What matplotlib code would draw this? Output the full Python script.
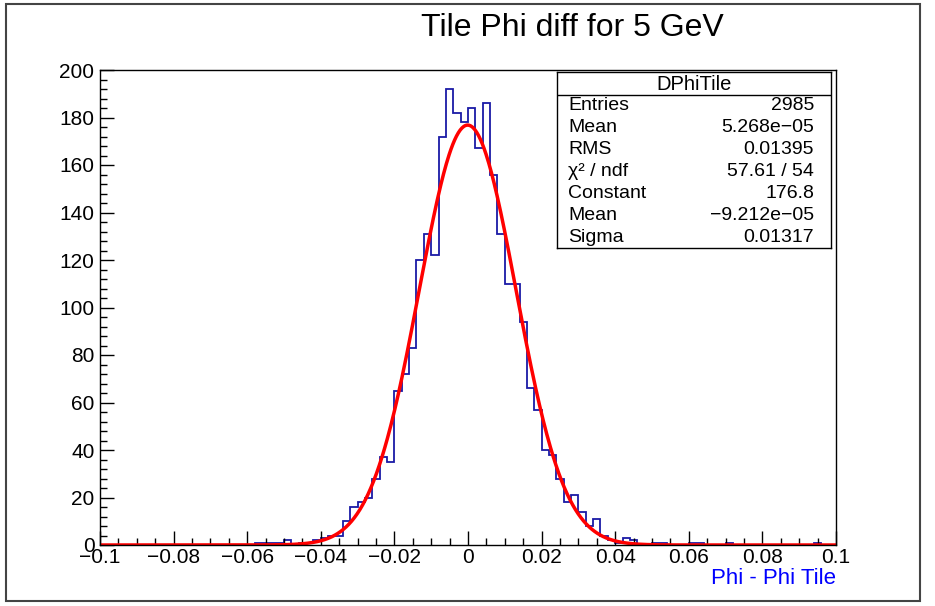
import numpy as np
import matplotlib
matplotlib.use("Agg")
import matplotlib.pyplot as plt
from matplotlib.patches import Rectangle
from matplotlib.ticker import MultipleLocator

plt.rcParams['font.family'] = ['Liberation Sans', 'DejaVu Sans']

# histogram: 100 bins from -0.1 to 0.1
x_low, x_high, n_bins = -0.1, 0.1, 100
counts = [
    0, 0, 0, 0, 0, 0, 0, 0, 0, 0,
    0, 0, 0, 0, 0, 0, 0, 0, 0, 0,
    0, 1, 1, 1, 1, 2, 0, 1, 1, 2,
    3, 4, 4, 10, 16, 18, 20, 28, 37, 35,
    65, 72, 83, 120, 131, 122, 172, 192, 182, 178,
    184, 167, 186, 156, 131, 110, 110, 94, 66, 57,
    40, 38, 28, 18, 21, 14, 8, 11, 4, 2,
    1, 3, 2, 0, 0, 1, 1, 0, 0, 0,
    1, 1, 0, 0, 0, 1, 0, 0, 0, 0,
    0, 0, 0, 0, 0, 0, 0, 1, 0, 0,
]

# gaussian fit parameters (from stats box)
fit_const = 176.8
fit_mean = -9.212e-05
fit_sigma = 0.01317

stats_names = ["Entries", "Mean", "RMS", "\u03c7\u00b2 / ndf", "Constant", "Mean", "Sigma"]
stats_values = ["2985", "5.268e\u221205", "0.01395", "57.61 / 54", "176.8",
                "\u22129.212e\u221205", "0.01317"]

xticks = [-0.1, -0.08, -0.06, -0.04, -0.02, 0, 0.02, 0.04, 0.06, 0.08, 0.1]
xtick_labels = ["\u22120.1", "\u22120.08", "\u22120.06", "\u22120.04", "\u22120.02",
                "0", "0.02", "0.04", "0.06", "0.08", "0.1"]
yticks = list(range(0, 201, 20))

W, H = 935, 606
fig = plt.figure(figsize=(W / 100, H / 100), dpi=100)

# canvas frame
fig.patches.append(Rectangle((6 / W, 1 - 601 / H), (920 - 6) / W, (601 - 4) / H,
                             transform=fig.transFigure, fill=False,
                             edgecolor='#444444', linewidth=1.5))

ax = fig.add_axes([100 / W, 1 - 545 / H, (836 - 100) / W, (545 - 70) / H])

edges = np.linspace(x_low, x_high, n_bins + 1)
ax.stairs(counts, edges, color='#1a1aa6', linewidth=1.3, baseline=0)

xf = np.linspace(x_low, x_high, 800)
yf = fit_const * np.exp(-0.5 * ((xf - fit_mean) / fit_sigma) ** 2)
ax.plot(xf, yf, color='#ff0000', linewidth=2.5)

ax.set_xlim(x_low, x_high)
ax.set_ylim(0, 200)
ax.set_xticks(xticks)
ax.set_xticklabels(xtick_labels)
ax.set_yticks(yticks)
ax.xaxis.set_minor_locator(MultipleLocator(0.005))
ax.yaxis.set_minor_locator(MultipleLocator(4))
ax.tick_params(which='both', direction='in', top=False, right=False,
               labelsize=15, color='black')
ax.tick_params(which='major', length=10, width=1)
ax.tick_params(which='minor', length=5, width=1)
ax.tick_params(axis='x', pad=2)
ax.tick_params(axis='y', pad=4)
for s in ax.spines.values():
    s.set_linewidth(1)

fig.text(572 / W, 1 - 28 / H, "Tile Phi diff for 5 GeV", ha='center', va='center',
         fontsize=23)
fig.text(836 / W, 1 - 579 / H, "Phi - Phi Tile", ha='right', va='center',
         fontsize=16, color='#0000ff')

# stats box
sb = fig.add_axes([557 / W, 1 - 248 / H, (831 - 557) / W, (248 - 72) / H])
sb.set_xlim(557, 831)
sb.set_ylim(248, 72)
sb.set_xticks([])
sb.set_yticks([])
for s in sb.spines.values():
    s.set_linewidth(1)
sb.axhline(95, color='black', linewidth=1)
sb.text(694, 84, "DPhiTile", ha='center', va='center', fontsize=14.5)
for i, (name, val) in enumerate(zip(stats_names, stats_values)):
    yb = 110 + i * 22
    sb.text(568, yb, name, ha='left', va='baseline', fontsize=14)
    sb.text(814, yb, val, ha='right', va='baseline', fontsize=14)

fig.savefig("out.png", dpi=100)
